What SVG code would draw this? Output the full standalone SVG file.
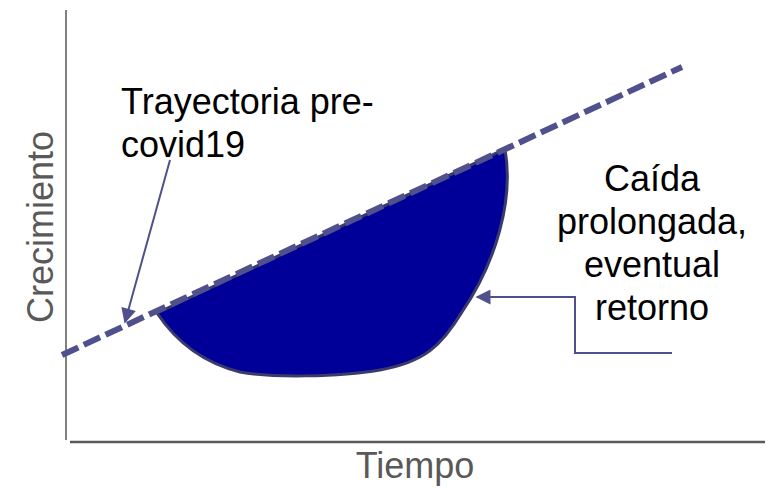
<svg xmlns="http://www.w3.org/2000/svg" width="776" height="489" viewBox="0 0 776 489">
<defs>
<style>
.t{font-family:"Liberation Sans",Arial,sans-serif;font-size:36px;fill:#000}
.g{fill:#595959}
.conn{stroke:#50508c;stroke-width:2;fill:none}
</style>
<marker id="ah" viewBox="0 0 10 10" refX="10" refY="5" markerWidth="7.5" markerHeight="7.5" markerUnits="userSpaceOnUse" orient="auto">
<path d="M0,0 L10,5 L0,10 Z" fill="#50508c"/>
</marker>
<marker id="ah2" viewBox="0 0 10 10" refX="9" refY="5" markerWidth="16" markerHeight="15" markerUnits="userSpaceOnUse" orient="auto">
<path d="M0,0 L10,5 L0,10 Z" fill="#50508c"/>
</marker>
</defs>
<rect width="776" height="489" fill="#fff"/>
<g id="axes">
<line x1="66" y1="10" x2="66" y2="440" stroke="#808080" stroke-width="2"/>
<line x1="70" y1="442" x2="765" y2="442" stroke="#5a5a5a" stroke-width="2.5"/>
<text class="t g" transform="translate(53,227) rotate(-90)" text-anchor="middle" font-size="37">Crecimiento</text>
<text class="t g" x="415" y="478" text-anchor="middle">Tiempo</text>
</g>
<g id="caida">
<path d="M157,313 L505,149 C514,200 496,262 462,312 C442,345 425,362 380,370 C340,377 270,378 240,372 C200,362 175,340 157,313 Z" fill="#000099" stroke="#3b3b6b" stroke-width="3"/>
</g>
<g id="trayectoria">
<line x1="62" y1="355" x2="682" y2="67" stroke="#50508c" stroke-width="6" stroke-dasharray="18 6"/>
</g>
<g id="label-trayectoria">
<text class="t" x="121" y="114">Trayectoria pre-</text>
<text class="t" x="121" y="157">covid19</text>
</g>
<g id="label-caida">
<text class="t" x="652" y="191" text-anchor="middle">Caída</text>
<text class="t" x="652" y="234" text-anchor="middle">prolongada,</text>
<text class="t" x="652" y="277" text-anchor="middle">eventual</text>
<text class="t" x="652" y="320" text-anchor="middle">retorno</text>
</g>
<g id="connectors">
<line class="conn" x1="170" y1="160" x2="125" y2="322" marker-end="url(#ah2)"/>
<polyline class="conn" points="672,353 575,353 575,297 477,297" marker-end="url(#ah2)"/>
</g>
</svg>
